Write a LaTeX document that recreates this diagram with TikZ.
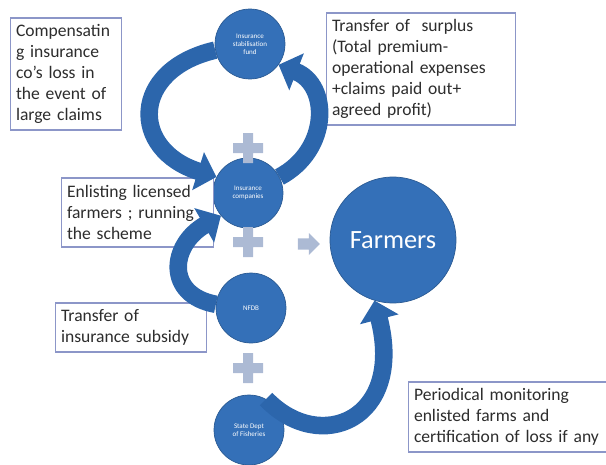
\documentclass[tikz,border=0pt]{standalone}
\usepackage{fontspec}
\setmainfont{Carlito}
\usetikzlibrary{arrows.meta,shapes.arrows}
\definecolor{schemeblue}{RGB}{52,112,184}
\definecolor{bandblue}{RGB}{44,102,172}
\definecolor{plusgrey}{RGB}{172,186,212}
\definecolor{boxline}{RGB}{140,150,200}
\definecolor{boxtext}{RGB}{45,45,45}
\begin{document}
\begin{tikzpicture}
[x=0.02cm,y=-0.02cm,
  agency/.style={shape=circle,fill=schemeblue,draw=schemeblue!80!black,thin,text=white,align=center,minimum size=1.4cm,inner sep=0pt,font=\fontsize{4}{4.6}\selectfont},
  note/.style={draw=boxline,line width=0.8pt,fill=white,text=boxtext,align=left,inner sep=3pt,font=\fontsize{10}{12}\selectfont},
  flowArrow/.style={-{Triangle[width=22pt,length=11pt]},line width=10pt,color=bandblue},
  plusBar/.style={fill=plusgrey}]
\useasboundingbox (0,0) rectangle (606,464);
%% agencies
\foreach \nodename/\x/\y/\txt in {fund/250/44/{Insurance\\stabilisation\\fund},
  comp/248/193/{Insurance\\companies}, nfdb/251/308/{NFDB},
  state/249/430/{State Dept\\of Fisheries}}
{
  \node (\nodename) at (\x,\y) [agency] {\txt};
}
\node (farmers) at (393,240) [agency,minimum size=2.52cm,font=\fontsize{15}{18}\selectfont] {Farmers};
%% plus signs and small arrow
\foreach \py in {148,242,368}
{
  \fill[plusBar,shift={(248,\py)}] (-15,-5) rectangle (15,5) (-5,-15) rectangle (5,15);
}
\node (toFarmers) at (306,244) [single arrow,fill=plusgrey,inner sep=0.1cm,minimum width=0.44cm,minimum height=0.44cm,single arrow head extend=0.1cm] {};
%% notes
\node (compensate) at (66,74) [note,text width=2.0cm,minimum height=2.24cm] {Compensatin\\g insurance\\co's loss in\\the event of\\large claims};
\node (surplus) at (421,69) [note,text width=3.56cm,minimum height=2.24cm] {Transfer of \ surplus\\(Total premium-\\operational expenses\\+claims paid out+\\agreed profit)};
\node (enlist) at (137.5,212.5) [note,text width=2.82cm,minimum height=1.38cm] {Enlisting licensed\\farmers ; running\\the scheme};
\node (subsidy) at (131,327.5) [note,text width=2.8cm,minimum height=0.98cm] {Transfer of\\insurance subsidy};
\node (monitor) at (507.5,417) [note,text width=3.74cm,minimum height=1.4cm] {Periodical monitoring\\enlisted farms and\\certification of loss if any};
%% curved flows
\draw[flowArrow] (fund.190) .. controls (130,70) and (130,150) .. (comp.153);
\draw[flowArrow] (comp.27) .. controls (330,150) and (330,85) .. (fund.-36);
\draw[flowArrow] (nfdb.174) .. controls (165,295) and (170,245) .. (comp.220);
\draw[flowArrow] (state.61) .. controls (320,455) and (405,420) .. (farmers.253);
\end{tikzpicture}
\end{document}
